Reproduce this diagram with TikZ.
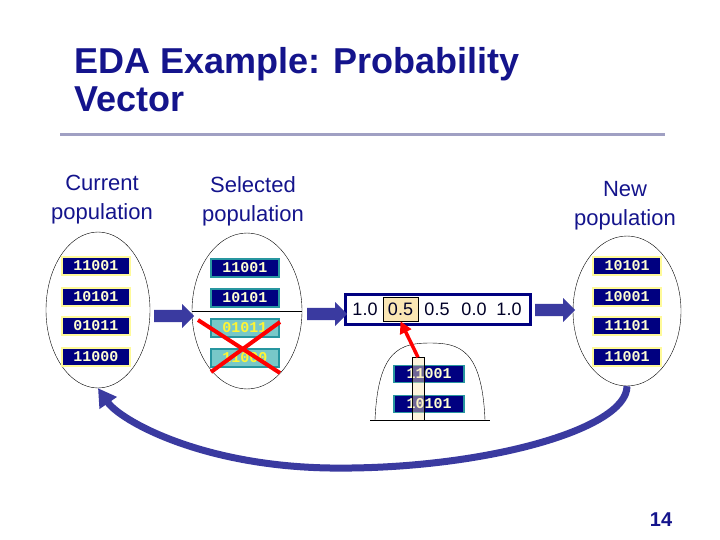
\documentclass[tikz,border=0pt]{standalone}
\usepackage{fontspec}
\setmainfont{Liberation Sans}
\newfontfamily\monofont{Liberation Mono}
\usetikzlibrary{arrows.meta,calc,shapes.arrows,shapes.geometric}
\definecolor{navy}{RGB}{0,0,128}
\definecolor{titleblue}{RGB}{20,20,140}
\definecolor{arrowblue}{RGB}{58,58,160}
\definecolor{ruleblue}{RGB}{160,160,195}
\definecolor{teal}{RGB}{40,150,160}
\definecolor{cyanfill}{RGB}{120,200,200}
\definecolor{tan}{RGB}{250,230,180}
\definecolor{bittext}{RGB}{255,255,210}
\tikzset{
  bits/.style={draw=yellow!40, line width=1.2pt, fill=navy, text=bittext,
    minimum width=68pt, minimum height=18pt, inner sep=0pt,
    font=\monofont\bfseries\fontsize{15}{15}\selectfont},
  selbits/.style={bits, draw=teal},
  dropbits/.style={bits, draw=teal, fill=cyanfill, text=yellow!80},
  pop/.style={draw, thin, ellipse},
  poplabel/.style={align=center, text=titleblue, font=\fontsize{22}{29}\selectfont},
  prob/.style={inner sep=0pt, font=\fontsize{18}{18}\selectfont, text=black!70!navy},
  stagearrow/.style={single arrow, fill=arrowblue, draw=none, minimum height=40pt,
    minimum width=24pt, single arrow head extend=3pt, inner sep=3pt}
}
\begin{document}
\begin{tikzpicture}[x=1pt,y=-1pt]
\useasboundingbox (0,0) rectangle (720,540);
% title
\node (title) [anchor=north west, align=left, text=titleblue, inner sep=0pt,
  font=\bfseries\fontsize{36}{38}\selectfont] at (74,47) {EDA Example: Probability\\Vector};
\draw[ruleblue, line width=3pt] (60,135) -- (665,135);
% column labels
\node (lcur) [poplabel] at (102,200) {Current\\population};
\node (lsel) [poplabel] at (253,201) {Selected\\population};
\node (lnew) [poplabel] at (625,206) {New\\population};
% populations
\node (curpop) [pop, minimum width=104pt, minimum height=156pt] at (98,310) {};
\node (selpop) [pop, minimum width=110pt, minimum height=156pt] at (247,311) {};
\node (newpop) [pop, minimum width=108pt, minimum height=150pt] at (627,311) {};
\draw[thin] (selpop.west) -- (selpop.east);
% current
\node (c1) [bits] at (96,266) {11001};
\node (c2) [bits] at (96,297) {10101};
\node (c3) [bits] at (96,326) {01011};
\node (c4) [bits] at (96,357) {11000};
% selected
\node (s1) [selbits] at (245,268) {11001};
\node (s2) [selbits] at (245,298) {10101};
\node (s3) [dropbits] at (245,328) {01011};
\node (s4) [dropbits] at (245,358) {11000};
\draw[red, line width=4pt] (198,320) -- (280,373);
\draw[red, line width=4pt] (280,322) -- (211,372);
% new
\node (n1) [bits] at (627,266) {10101};
\node (n2) [bits] at (627,297) {10001};
\node (n3) [bits] at (627,326) {11101};
\node (n4) [bits] at (627,357) {11001};
% probability vector
\node (vec) [draw=navy, line width=3pt, fill=white, minimum width=185pt,
  minimum height=30pt] at (437.5,309) {};
\node (hl) [draw=black, fill=tan, thin, minimum width=35pt, minimum height=24pt] at (400.5,309) {};
\node (p1) [prob] at (365,309.5) {1.0};
\node (p2) [prob] at (400.5,309.5) {0.5};
\node (p3) [prob] at (437,309.5) {0.5};
\node (p4) [prob] at (474,309.5) {0.0};
\node (p5) [prob] at (509,309.5) {1.0};
% arrows between stages
\node (a1) [stagearrow] at (171,316) {};
\node (a2) [stagearrow] at (324,314) {};
\node (a3) [stagearrow] at (552,310) {};
% dome with selected strings
\coordinate (dl) at (375,420);
\coordinate (dr) at (485,420);
\draw[thin] (dl) .. controls (378,350) and (400,343) .. (430,343)
  .. controls (460,343) and (482,350) .. (dr);
\draw[thin] (370,420) -- (490,420);
\node (d1) [selbits, minimum width=70pt, minimum height=17pt] at (429,374) {11001};
\node (d2) [selbits, minimum width=70pt, minimum height=17pt] at (429,404) {10101};
\node (col) [draw=black, fill=tan, fill opacity=0.45, thin, minimum width=12pt,
  minimum height=63pt, inner sep=0pt] at (418,389) {};
\draw[red, line width=3.5pt, -{Triangle[length=12pt,width=12pt]}] (col.north) -- (hl.south);
% loop back
\draw[arrowblue, line width=7pt, -{Triangle[length=18pt,width=20pt]}]
  (newpop.south) .. controls (627,430) and (480,470) .. (330,468)
  .. controls (200,466) and (120,420) .. (curpop.south);
% page number
\node (page) [text=titleblue, font=\bfseries\fontsize{20}{20}\selectfont] at (661,520) {14};
\end{tikzpicture}
\end{document}
